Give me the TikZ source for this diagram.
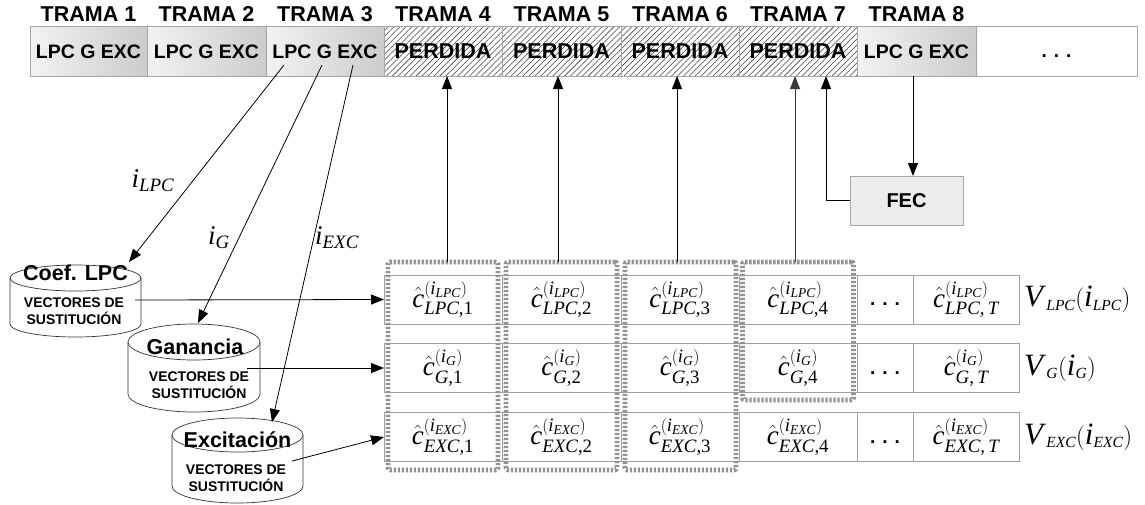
\documentclass[tikz,border=0pt]{standalone}
\usepackage{amsmath}
\usepackage{fontspec}
\setmainfont{Liberation Serif}
\newfontfamily\arialf{Liberation Sans}
\usetikzlibrary{arrows.meta,patterns.meta}
\newcommand\tv[1]{\text{\itshape #1}}
\newcommand\tr[1]{\text{\upshape #1}}
\newcommand\cc[3]{$\hat{\tv{c}}^{(\tv{i}_{\tv{#1}})}_{\tv{#2}\tr{,#3}}$}
\begin{document}
\begin{tikzpicture}[x=1pt,y=-1pt,
  every node/.style={inner sep=0pt,outer sep=0pt},
  frame/.style={draw=gray!70,line width=0.8pt},
  okbox/.style={frame,left color=gray!10,right color=gray!40,minimum height=50pt,text height=14pt,text depth=0pt,font=\arialf\bfseries\fontsize{19.5}{23}\selectfont},
  lostbox/.style={frame,pattern={Lines[angle=45,distance=4.2pt,line width=0.55pt]},pattern color=black!75,minimum height=50pt,text height=14pt,text depth=0pt,font=\arialf\bfseries\fontsize{21.5}{26}\selectfont},
  trlabel/.style={text height=15pt,text depth=0pt,font=\arialf\bfseries\fontsize{21.5}{25}\selectfont},
  cell/.style={draw=gray!75,line width=0.8pt,fill=white,minimum height=49pt,font=\fontsize{27}{31}\selectfont},
  dots/.style={cell,text height=12pt,text depth=0pt,font=\arialf\bfseries\fontsize{19}{22}\selectfont},
  dbox/.style={draw=gray!85,line width=4.6pt,dash pattern=on 2.3pt off 1.7pt,rounded corners=2pt},
  cyl/.style={draw=gray!40!black,line width=0.7pt,fill=white},
  cyltitle/.style={font=\arialf\bfseries\fontsize{21.5}{24}\selectfont},
  cyltext/.style={font=\arialf\bfseries\fontsize{14}{16.5}\selectfont,align=center},
  arr/.style={-{Triangle[length=13pt,width=10pt]},line width=0.8pt},
  idx/.style={font=\fontsize{27}{31}\selectfont},
  vlab/.style={anchor=west,font=\fontsize{31}{35}\selectfont}
]
\useasboundingbox (0,0) rectangle (1145,504);
\fill[white] (0,0) rectangle (1145,504);

% ---------- frame strip ----------
\node[okbox,minimum width=117pt] (f1) at (88.5,51) {LPC G EXC};
\node[okbox,minimum width=119pt] (f2) at (206.5,51) {LPC G EXC};
\node[okbox,minimum width=118pt] (f3) at (325,51) {LPC G EXC};
\node[lostbox,minimum width=118pt] (f4) at (443,51) {PERDIDA};
\node[lostbox,minimum width=119pt] (f5) at (561.5,51) {PERDIDA};
\node[lostbox,minimum width=118pt] (f6) at (680,51) {PERDIDA};
\node[lostbox,minimum width=118pt] (f7) at (798,51) {PERDIDA};
\node[okbox,minimum width=119pt] (f8) at (916.5,51) {LPC G EXC};
\node[frame,fill=white,minimum width=161pt,minimum height=50pt,text height=12pt,text depth=0pt,font=\arialf\bfseries\fontsize{19}{22}\selectfont] (f9) at (1056.5,51) {. . .};

\node[trlabel] (t1) at (88.5,14) {TRAMA 1};
\node[trlabel] (t2) at (206.5,14) {TRAMA 2};
\node[trlabel] (t3) at (325,14) {TRAMA 3};
\node[trlabel] (t4) at (443,14) {TRAMA 4};
\node[trlabel] (t5) at (561.5,14) {TRAMA 5};
\node[trlabel] (t6) at (680,14) {TRAMA 6};
\node[trlabel] (t7) at (798,14) {TRAMA 7};
\node[trlabel] (t8) at (916.5,14) {TRAMA 8};

% ---------- FEC ----------
\node[frame,fill=gray!15,minimum width=113pt,minimum height=49pt,font=\arialf\bfseries\fontsize{20}{24}\selectfont] (fec) at (906.5,200.5) {FEC};

% ---------- matrix ----------
\node[cell,minimum width=118pt] (l1) at (443,299.5) {\cc{LPC}{LPC}{1}};
\node[cell,minimum width=119pt] (l2) at (561.5,299.5) {\cc{LPC}{LPC}{2}};
\node[cell,minimum width=118pt] (l3) at (680,299.5) {\cc{LPC}{LPC}{3}};
\node[cell,minimum width=118pt] (l4) at (798,299.5) {\cc{LPC}{LPC}{4}};
\node[dots,minimum width=56pt] (l5) at (885,299.5) {. . .};
\node[cell,minimum width=106pt] (l6) at (966,299.5) {\cc{LPC}{LPC}{\,\itshape T}};

\node[cell,minimum width=118pt] (g1) at (443,368) {\cc{G}{G}{1}};
\node[cell,minimum width=119pt] (g2) at (561.5,368) {\cc{G}{G}{2}};
\node[cell,minimum width=118pt] (g3) at (680,368) {\cc{G}{G}{3}};
\node[cell,minimum width=118pt] (g4) at (798,368) {\cc{G}{G}{4}};
\node[dots,minimum width=56pt] (g5) at (885,368) {. . .};
\node[cell,minimum width=106pt] (g6) at (966,368) {\cc{G}{G}{\,\itshape T}};

\node[cell,minimum width=118pt] (x1) at (443,437) {\cc{EXC}{EXC}{1}};
\node[cell,minimum width=119pt] (x2) at (561.5,437) {\cc{EXC}{EXC}{2}};
\node[cell,minimum width=118pt] (x3) at (680,437) {\cc{EXC}{EXC}{3}};
\node[cell,minimum width=118pt] (x4) at (798,437) {\cc{EXC}{EXC}{4}};
\node[dots,minimum width=56pt] (x5) at (885,437) {. . .};
\node[cell,minimum width=106pt] (x6) at (966,437) {\cc{EXC}{EXC}{\,\itshape T}};

\node[vlab] (vl) at (1024,299.5) {$\tv{V}_{\,\scriptscriptstyle\tv{LPC}}(\tv{i}_{\scriptscriptstyle\tv{LPC}})$};
\node[vlab] (vg) at (1024,368) {$\tv{V}_{\,\scriptscriptstyle\tv{G}}(\tv{i}_{\scriptscriptstyle\tv{G}})$};
\node[vlab] (vx) at (1024,437) {$\tv{V}_{\,\scriptscriptstyle\tv{EXC}}(\tv{i}_{\scriptscriptstyle\tv{EXC}})$};

% ---------- dashed frame groups ----------
\node[dbox,minimum width=110pt,minimum height=208pt] (d1) at (443,366) {};
\node[dbox,minimum width=111pt,minimum height=208pt] (d2) at (561.5,366) {};
\node[dbox,minimum width=111pt,minimum height=208pt] (d3) at (680.5,366) {};
\node[dbox,minimum width=111pt,minimum height=138pt] (d4) at (798,331) {};

% ---------- cylinders ----------
\path[cyl] (10,278) -- (10,324) arc[start angle=180,end angle=360,x radius=65.5pt,y radius=13pt] -- (141,278);
\path[cyl] (75.5,278) ellipse[x radius=65.5pt,y radius=13pt];
\node[minimum width=131pt,minimum height=72pt] (dblpc) at (75.5,301) {};
\node[cyltitle] (nlpc) at (75.5,273) {Coef. LPC};
\node[cyltext] (vlpc) at (74,311) {VECTORES DE\\SUSTITUCIÓN};

\path[cyl] (128,342) -- (128,394) arc[start angle=180,end angle=360,x radius=66pt,y radius=18pt] -- (260,342);
\path[cyl] (194,342) ellipse[x radius=66pt,y radius=18pt];
\node[minimum width=132pt,minimum height=88pt] (dbg) at (194,368) {};
\node[cyltitle] (ng) at (195,347) {Ganancia};
\node[cyltext] (vgs) at (199,385) {VECTORES DE\\SUSTITUCIÓN};

\path[cyl] (172,435) -- (172,486) arc[start angle=180,end angle=360,x radius=65.5pt,y radius=17pt] -- (303,435);
\path[cyl] (237.5,435) ellipse[x radius=65.5pt,y radius=17pt];
\node[minimum width=131pt,minimum height=85pt] (dbx) at (237.5,460.5) {};
\node[cyltitle] (nx) at (237.5,440) {Excitación};
\node[cyltext] (vxs) at (236,478) {VECTORES DE\\SUSTITUCIÓN};

% ---------- connectors ----------
\coordinate (s1) at (284,65);
\coordinate (s2) at (322,65);
\coordinate (s3) at (353,65);
\coordinate (e1) at (129,262);
\coordinate (e2) at (198,323);
\coordinate (e3) at (272,422);
\draw[arr] (s1) -- (e1);
\draw[arr] (s2) -- (e2);
\draw[arr] (s3) -- (e3);

\coordinate (h1) at (135,300);
\coordinate (h2) at (247,368);
\coordinate (h3) at (292,461);
\draw[arr] (h1) -- (l1.west);
\draw[arr] (h2) -- (g1.west);
\draw[arr] (h3) -- (x1.west);

\coordinate (u1) at ([xshift=4pt]d1.north);
\coordinate (u2) at ([xshift=-3.5pt]d2.north);
\coordinate (u3) at ([xshift=-3.5pt]d3.north);
\coordinate (u4) at ([xshift=-3pt]d4.north);
\draw[arr] (u1) -- (u1 |- f4.south);
\draw[arr] (u2) -- (u2 |- f5.south);
\draw[arr] (u3) -- (u3 |- f6.south);
\draw[arr,draw=gray!45!black] (u4) -- (u4 |- f7.south);

\coordinate (q8) at ([xshift=-3.5pt]f8.south);
\draw[arr] (q8) -- (q8 |- fec.north);
\coordinate (q7) at ([xshift=28pt]f7.south);
\draw[arr] (fec.west) -| (q7);

\node[idx] (ilpc) at (153,181) {$\tv{i}_{\tv{LPC}}$};
\node[idx] (ig) at (219,238) {$\tv{i}_{\tv{G}}$};
\node[idx] (iexc) at (337,238) {$\tv{i}_{\tv{EXC}}$};
\end{tikzpicture}
\end{document}
